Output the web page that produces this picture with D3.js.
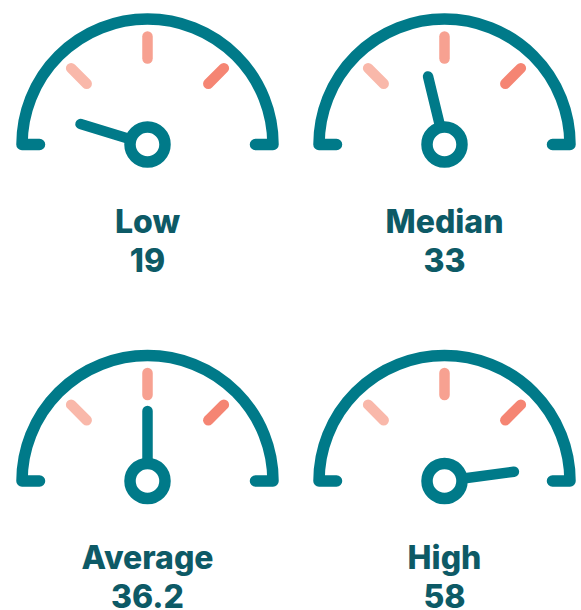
<!DOCTYPE html>
<html>
<head>
<meta charset="utf-8">
<script src="https://cdn.jsdelivr.net/npm/d3@7"></script>
<style>
  html, body { margin: 0; padding: 0; background: #fff; }
  svg { display: block; }
</style>
</head>
<body>
<svg id="chart"></svg>
<script>
// gauge data
const labels = ["Low", "Median", "Average", "High"];
const values = [19, 33, 36.2, 58];
const valueText = ["19", "33", "36.2", "58"];
// dial scale: value -> degrees from vertical (average points straight up)
const dialDomain = [15, 36.2, 60];
const tickAngles = [-45, 0, 45];
const tickColors = ["#f9b8aa", "#f7a191", "#f58573"];

const width = 581, height = 610;
const teal = "#007a89", textColor = "#0d5a66";

const svg = d3.select("#chart").attr("width", width).attr("height", height);

const angle = d3.scaleLinear().domain(dialDomain).range([-90, 0, 90]);
const colX = d3.scalePoint().domain([0, 1]).range([147.5, 444.5]);
const rowY = d3.scalePoint().domain([0, 1]).range([144.5, 481]);

const R = 125.5, foot = 17.5;
const tickIn = 86, tickOut = 108;
const needleLen = 70;
const rad = d => d * Math.PI / 180;

const g = svg.selectAll("g.gauge")
  .data(labels.map((l, i) => ({ label: l, value: values[i], text: valueText[i], i })))
  .join("g")
  .attr("class", "gauge")
  .attr("transform", d => `translate(${colX(d.i % 2)},${rowY(Math.floor(d.i / 2))})`);

// outer dial with little feet
g.append("path")
  .attr("d", () => {
    const p = d3.path();
    p.moveTo(-R + foot, 0);
    p.lineTo(-R, 0);
    p.arc(0, 0, R, Math.PI, 2 * Math.PI);
    p.lineTo(R - foot, 0);
    return p.toString();
  })
  .attr("fill", "none")
  .attr("stroke", teal)
  .attr("stroke-width", 11.5)
  .attr("stroke-linecap", "round")
  .attr("stroke-linejoin", "round");

// coloured ticks
g.selectAll("line.tick")
  .data(tickAngles.map((a, j) => ({ a, c: tickColors[j] })))
  .join("line")
  .attr("class", "tick")
  .attr("x1", t => Math.sin(rad(t.a)) * tickIn)
  .attr("y1", t => -Math.cos(rad(t.a)) * tickIn)
  .attr("x2", t => Math.sin(rad(t.a)) * tickOut)
  .attr("y2", t => -Math.cos(rad(t.a)) * tickOut)
  .attr("stroke", t => t.c)
  .attr("stroke-width", 10.5)
  .attr("stroke-linecap", "round");

// needle
g.append("line")
  .attr("x1", 0).attr("y1", 0)
  .attr("x2", d => Math.sin(rad(angle(d.value))) * needleLen)
  .attr("y2", d => -Math.cos(rad(angle(d.value))) * needleLen)
  .attr("stroke", teal)
  .attr("stroke-width", 10.5)
  .attr("stroke-linecap", "round");

// hub
g.append("circle")
  .attr("r", 17.5)
  .attr("fill", "#fff")
  .attr("stroke", teal)
  .attr("stroke-width", 11.5);

// texts
g.append("text")
  .attr("y", 88)
  .attr("text-anchor", "middle")
  .attr("font-family", "Inter, 'Noto Sans', sans-serif")
  .attr("font-weight", 800)
  .attr("font-size", 32)
  .attr("fill", textColor)
  .text(d => d.label);

g.append("text")
  .attr("y", 127)
  .attr("text-anchor", "middle")
  .attr("font-family", "Inter, 'Noto Sans', sans-serif")
  .attr("font-weight", 800)
  .attr("font-size", 32)
  .attr("fill", textColor)
  .text(d => d.text);
</script>
</body>
</html>
